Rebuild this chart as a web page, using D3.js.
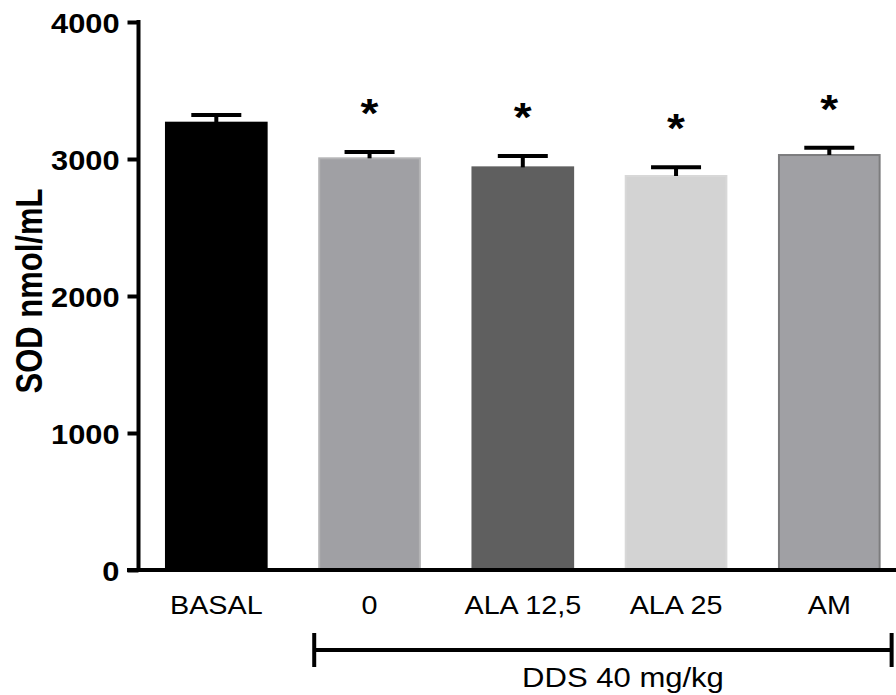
<!DOCTYPE html>
<html>
<head>
<meta charset="utf-8">
<script src="https://cdn.jsdelivr.net/npm/d3@7"></script>
<style>
  body { margin: 0; background: #fff; }
  svg { display: block; font-family: "Liberation Sans", Arial, sans-serif; }
</style>
</head>
<body>
<svg width="896" height="695"></svg>
<script>
// data
var groups = ['BASAL', '0', 'ALA 12,5', 'ALA 25', 'AM'];
var means = [3265, 3005, 2939, 2876, 3029];
var sems = [56, 47, 83, 63, 54];
var signif = [false, true, true, true, true];
var fills = ['#000000', '#a0a0a4', '#5f5f5f', '#d3d3d3', '#a0a0a4'];
var strokes = ['#000000', '#b4b4b6', '#5f5f5f', '#d8d8d8', '#7c7c7e'];
var yTicks = [0, 1000, 2000, 3000, 4000];
var yTitle = 'SOD nmol/mL';
var bracketLabel = 'DDS 40 mg/kg';

var svg = d3.select('svg');
var sx = 1.15; // the picture is stretched sideways

var y = d3.scaleLinear().domain([0, 4000]).range([570, 22]);
var x = d3.scaleBand().domain(groups).range([114.4, 931.2])
          .paddingInner(0.33).paddingOuter(0.33);

// bars
svg.selectAll('rect.bar').data(groups).enter()
  .append('rect')
  .classed('bar', true)
  .attr('x', function(d) { return x(d) + 1; })
  .attr('width', x.bandwidth() - 2)
  .attr('y', function(d, i) { return y(means[i]); })
  .attr('height', function(d, i) { return y(0) - y(means[i]); })
  .attr('fill', function(d, i) { return fills[i]; })
  .attr('stroke', function(d, i) { return strokes[i]; })
  .attr('stroke-width', 2);

// error bars (upper only)
var err = svg.selectAll('g.err').data(groups).enter()
  .append('g').classed('err', true);
err.append('line')
  .attr('x1', function(d) { return x(d) + x.bandwidth() / 2; })
  .attr('x2', function(d) { return x(d) + x.bandwidth() / 2; })
  .attr('y1', function(d, i) { return y(means[i]); })
  .attr('y2', function(d, i) { return y(means[i] + sems[i]); })
  .attr('stroke', '#000').attr('stroke-width', 4);
err.append('line')
  .attr('x1', function(d) { return x(d) + x.bandwidth() / 2 - 25; })
  .attr('x2', function(d) { return x(d) + x.bandwidth() / 2 + 25; })
  .attr('y1', function(d, i) { return y(means[i] + sems[i]); })
  .attr('y2', function(d, i) { return y(means[i] + sems[i]); })
  .attr('stroke', '#000').attr('stroke-width', 4);

// asterisks
svg.selectAll('text.star').data(groups.filter(function(d, i) { return signif[i]; })).enter()
  .append('text')
  .classed('star', true)
  .attr('transform', function(d) {
    var i = groups.indexOf(d);
    return 'translate(' + (x(d) + x.bandwidth() / 2) + ',' + (y(means[i] + sems[i]) - 25) + ') scale(' + sx + ',1)';
  })
  .attr('text-anchor', 'middle')
  .attr('font-size', 40)
  .attr('font-weight', 'bold')
  .text('*');

// y axis
var yAxis = svg.append('g')
  .attr('transform', 'translate(138.5,0)')
  .call(d3.axisLeft(y).tickValues(yTicks).tickSize(11).tickPadding(0).tickFormat(d3.format('d')));
yAxis.select('.domain').attr('stroke', '#000').attr('stroke-width', 4)
  .attr('d', 'M0,' + (y(4000) - 2) + 'V' + y(0));
yAxis.selectAll('.tick line').attr('stroke', '#000').attr('stroke-width', 4);
yAxis.selectAll('.tick text')
  .attr('x', null).attr('dy', null)
  .attr('transform', 'translate(-19,10) scale(1.1,1)')
  .attr('font-size', 28).attr('font-weight', 'bold')
  .attr('font-family', '"Liberation Sans", Arial, sans-serif')
  .attr('fill', '#000');

// x axis
var xAxis = svg.append('g')
  .attr('transform', 'translate(0,' + y(0) + ')')
  .call(d3.axisBottom(x).tickSize(0).tickPadding(0));
xAxis.select('.domain').attr('stroke', '#000').attr('stroke-width', 4)
  .attr('d', 'M127,0H896');
xAxis.selectAll('.tick text')
  .attr('y', null).attr('dy', null)
  .attr('transform', 'translate(0,44) scale(' + sx + ',1)')
  .attr('font-size', 25)
  .attr('font-family', '"Liberation Sans", Arial, sans-serif')
  .attr('fill', '#000');

// y title
svg.append('text')
  .attr('transform', 'translate(42,291) scale(1.2,1) rotate(-90)')
  .attr('text-anchor', 'middle')
  .attr('font-size', 31)
  .attr('font-weight', 'bold')
  .text(yTitle);

// DDS bracket
var bx0 = x('0') - 4, bx1 = x('AM') + x.bandwidth() + 11;
var br = svg.append('g').attr('stroke', '#000').attr('stroke-width', 4);
br.append('line').attr('x1', bx0).attr('x2', bx1).attr('y1', 650).attr('y2', 650);
br.append('line').attr('x1', bx0).attr('x2', bx0).attr('y1', 633).attr('y2', 667);
br.append('line').attr('x1', bx1).attr('x2', bx1).attr('y1', 633).attr('y2', 667);
svg.append('text')
  .attr('transform', 'translate(623,687) scale(' + sx + ',1)')
  .attr('text-anchor', 'middle')
  .attr('font-size', 27)
  .text(bracketLabel);
</script>
</body>
</html>
